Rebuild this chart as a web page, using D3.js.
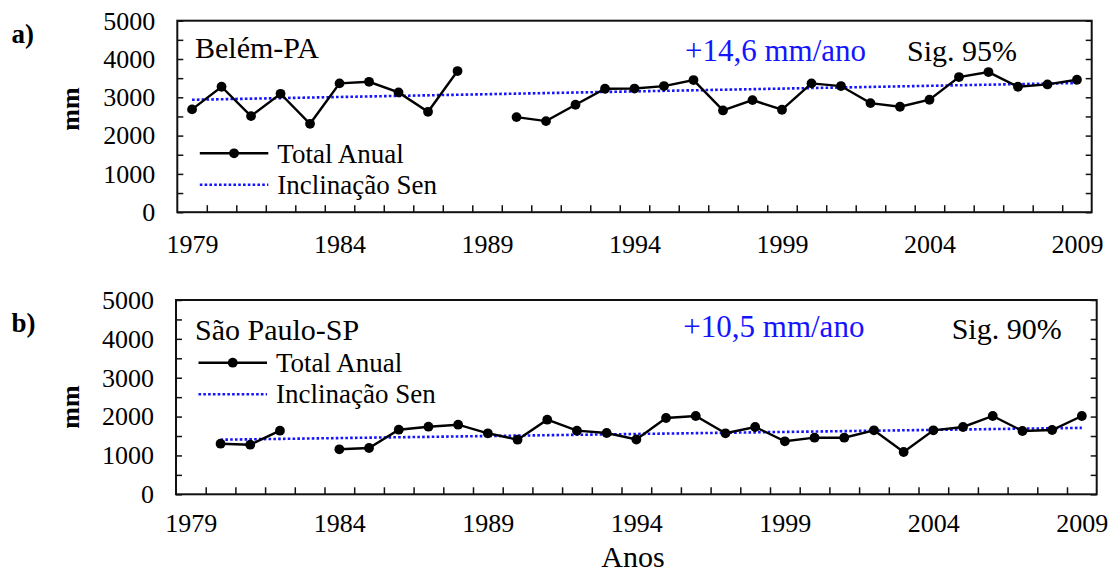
<!DOCTYPE html>
<html lang="pt">
  <head>
    <meta charset="UTF-8" />
    <title>Total Anual - Belém e São Paulo</title>
    <script src="https://d3js.org/d3.v7.min.js"></script>
    <style>
      html,
      body {
        margin: 0;
        padding: 0;
        background: #ffffff;
      }
      svg {
        display: block;
        font-family: "Liberation Serif", "Times New Roman", serif;
      }
    </style>
  </head>
  <body>
    <div id="viz"></div>
    <script>
      // anos (categorias)
      const years = [
        1979, 1980, 1981, 1982, 1983, 1984, 1985, 1986, 1987, 1988, 1989,
        1990, 1991, 1992, 1993, 1994, 1995, 1996, 1997, 1998, 1999, 2000,
        2001, 2002, 2003, 2004, 2005, 2006, 2007, 2008, 2009,
      ];
      const yearLabels = [1979, 1984, 1989, 1994, 1999, 2004, 2009];
      const yTicks = [0, 1000, 2000, 3000, 4000, 5000];

      // precipitação total anual (mm), null = sem dado
      const belem = [
        2684, 3275, 2509, 3092, 2308, 3363, 3405, 3127, 2622, 3685, null,
        2483, 2378, 2805, 3223, 3228, 3293, 3450, 2657, 2927, 2675, 3363,
        3293, 2848, 2753, 2936, 3528, 3659, 3275, 3336, 3458,
      ];
      const saoPaulo = [
        null, 1302, 1276, 1637, null, 1158, 1191, 1662, 1740, 1791, 1570,
        1405, 1920, 1637, 1577, 1410, 1963, 2015, 1570, 1732, 1364, 1457,
        1457, 1647, 1089, 1647, 1732, 2015, 1629, 1655, 2015,
      ];

      // inclinação de Sen (extremos da reta)
      const trendBelemYears = [1979, 2009];
      const trendBelem = [2935, 3373];
      const trendSPYears = [1980, 2009];
      const trendSP = [1405, 1710];

      const panels = [
        {
          letter: "a)",
          title: "Belém-PA",
          slope: "+14,6 mm/ano",
          sig: "Sig. 95%",
          values: belem,
          trendYears: trendBelemYears,
          trend: trendBelem,
          left: 177.3,
          top: 20.7,
          width: 914.4,
          height: 191.5,
          letterY: 42.7,
          titleY: 57.5,
          slopeX: 685,
          slopeY: 61,
          sigX: 907,
          sigY: 60.5,
          legY: 153.3,
          mmY: 109,
        },
        {
          letter: "b)",
          title: "São Paulo-SP",
          slope: "+10,5 mm/ano",
          sig: "Sig. 90%",
          values: saoPaulo,
          trendYears: trendSPYears,
          trend: trendSP,
          left: 176,
          top: 300,
          width: 920.7,
          height: 194.3,
          letterY: 331.7,
          titleY: 339.5,
          slopeX: 683.3,
          slopeY: 337.3,
          sigX: 951.7,
          sigY: 339,
          legY: 362.7,
          mmY: 407,
        },
      ];

      const W = 1112,
        H = 572;
      const blue = "#1414ff";

      const svg = d3
        .select("#viz")
        .append("svg")
        .attr("width", W)
        .attr("height", H);

      panels.forEach((p) => {
        const g = svg
          .append("g")
          .attr("transform", `translate(${p.left},${p.top})`);

        const x = d3
          .scaleLinear()
          .domain([years[0] - 0.5, years[years.length - 1] + 0.5])
          .range([0, p.width]);
        const y = d3.scaleLinear().domain([0, 5000]).range([p.height, 0]);

        // ticks inward (left / right)
        const minor = d3.range(0, 5001, 500);
        g.append("g")
          .attr("class", "yaxis")
          .call(
            d3
              .axisLeft(y)
              .tickValues(minor)
              .tickSizeInner(-6)
              .tickSizeOuter(0)
              .tickPadding(22)
              .tickFormat((d) => (yTicks.includes(d) ? d : ""))
          );
        g.append("g")
          .attr("transform", `translate(${p.width},0)`)
          .call(
            d3
              .axisRight(y)
              .tickValues(minor)
              .tickSizeInner(-6)
              .tickSizeOuter(0)
              .tickFormat("")
          );

        // x ticks between categories
        g.append("g")
          .attr("transform", `translate(0,${p.height})`)
          .call(
            d3
              .axisBottom(x)
              .tickValues(years.slice(0, -1).map((d) => d + 0.5))
              .tickSizeInner(-7)
              .tickSizeOuter(0)
              .tickFormat("")
          );
        g.append("g")
          .attr("class", "xlab")
          .attr("transform", `translate(0,${p.height})`)
          .call(
            d3
              .axisBottom(x)
              .tickValues(yearLabels)
              .tickSize(0)
              .tickPadding(p.letter === "a)" ? 22 : 19)
              .tickFormat(d3.format("d"))
          );

        svg.selectAll(".domain").remove();
        g.selectAll(".tick line").attr("stroke", "#111").attr("stroke-width", 1.5);
        g.selectAll(".tick text")
          .attr("font-size", 26)
          .attr("font-family", "Liberation Serif")
          .attr("fill", "#000");

        // frame
        g.append("rect")
          .attr("width", p.width)
          .attr("height", p.height)
          .attr("fill", "none")
          .attr("stroke", "#111")
          .attr("stroke-width", 2);

        // trend
        const tline = d3
          .line()
          .x((d, i) => x(p.trendYears[i]))
          .y((d) => y(d));
        g.append("path")
          .datum(p.trend)
          .attr("d", tline)
          .attr("fill", "none")
          .attr("stroke", blue)
          .attr("stroke-width", 2.6)
          .attr("stroke-dasharray", "2.6 2.2");

        // series
        const line = d3
          .line()
          .defined((d) => d !== null)
          .x((d, i) => x(years[i]))
          .y((d) => y(d));
        g.append("path")
          .datum(p.values)
          .attr("d", line)
          .attr("fill", "none")
          .attr("stroke", "#000")
          .attr("stroke-width", 2.4);
        g.selectAll("circle.pt")
          .data(years.map((yr, i) => ({ yr, v: p.values[i] })).filter((d) => d.v !== null))
          .join("circle")
          .attr("class", "pt")
          .attr("cx", (d) => x(d.yr))
          .attr("cy", (d) => y(d.v))
          .attr("r", 4.9)
          .attr("fill", "#000");

        // texts
        svg.append("text")
          .attr("x", 11.5)
          .attr("y", p.letterY)
          .attr("font-size", 27)
          .attr("font-weight", "bold")
          .text(p.letter);

        svg.append("text")
          .attr("transform", `translate(79,${p.mmY}) rotate(-90)`)
          .attr("text-anchor", "middle")
          .attr("font-size", 26)
          .attr("font-weight", "bold")
          .text("mm");

        svg.append("text")
          .attr("x", 195)
          .attr("y", p.titleY)
          .attr("font-size", 30)
          .text(p.title);

        svg.append("text")
          .attr("x", p.slopeX)
          .attr("y", p.slopeY)
          .attr("font-size", 31)
          .attr("fill", blue)
          .text(p.slope);

        svg.append("text")
          .attr("x", p.sigX)
          .attr("y", p.sigY)
          .attr("font-size", 30)
          .text(p.sig);

        // legend
        const lx0 = p.left + 22.5,
          lx1 = p.left + 91;
        svg.append("line")
          .attr("x1", lx0)
          .attr("x2", lx1)
          .attr("y1", p.legY)
          .attr("y2", p.legY)
          .attr("stroke", "#000")
          .attr("stroke-width", 2.4);
        svg.append("circle")
          .attr("cx", (lx0 + lx1) / 2)
          .attr("cy", p.legY)
          .attr("r", 4.9)
          .attr("fill", "#000");
        svg.append("text")
          .attr("x", lx1 + 9)
          .attr("y", p.legY + 9.5)
          .attr("font-size", 27)
          .text("Total Anual");

        svg.append("line")
          .attr("x1", lx0)
          .attr("x2", lx1)
          .attr("y1", p.legY + 31.5)
          .attr("y2", p.legY + 31.5)
          .attr("stroke", blue)
          .attr("stroke-width", 2.6)
          .attr("stroke-dasharray", "2.6 2.2");
        svg.append("text")
          .attr("x", lx1 + 9)
          .attr("y", p.legY + 40.5)
          .attr("font-size", 27)
          .text("Inclinação Sen");
      });

      svg.append("text")
        .attr("x", 633)
        .attr("y", 566.5)
        .attr("text-anchor", "middle")
        .attr("font-size", 30)
        .text("Anos");
    </script>
  </body>
</html>
